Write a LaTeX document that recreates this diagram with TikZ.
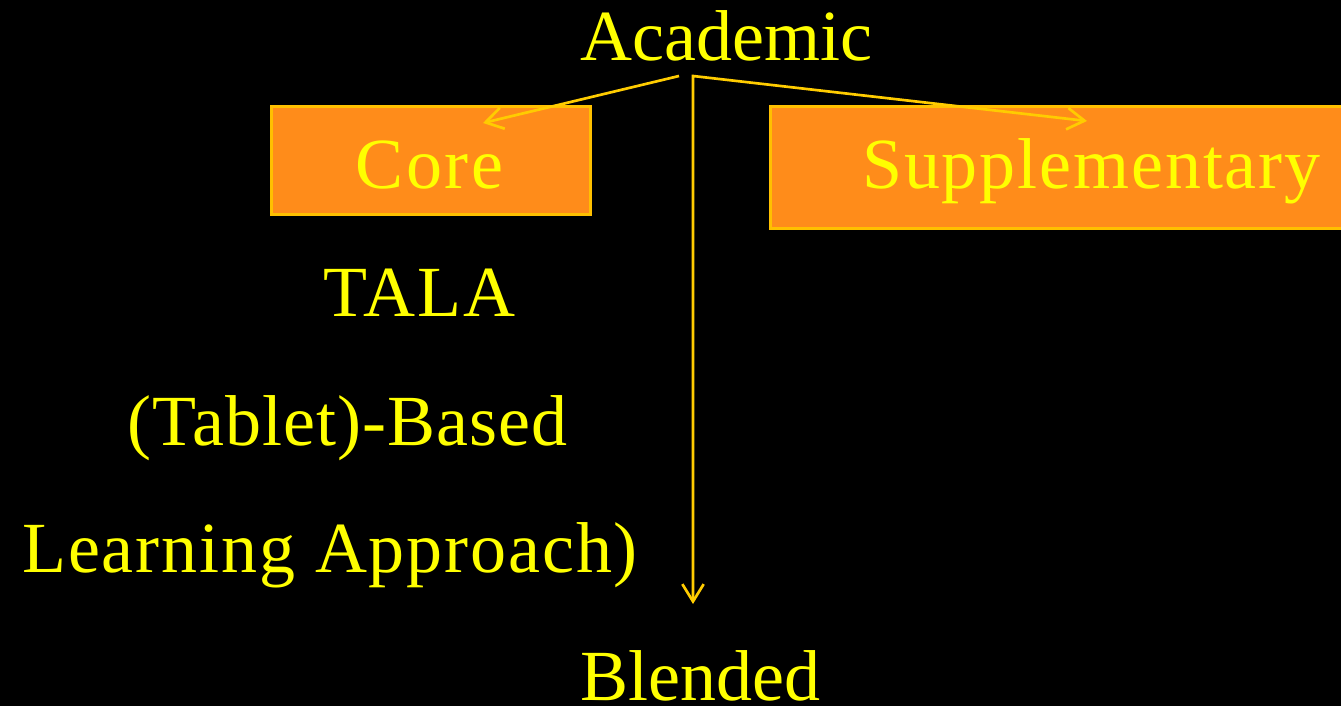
\documentclass[tikz,border=0pt]{standalone}
\usepackage{fontspec}
\setmainfont{Liberation Serif}
\usetikzlibrary{arrows.meta}
\definecolor{txtyellow}{HTML}{FFFF00}
\definecolor{lineyellow}{HTML}{FFCC00}
\definecolor{boxfill}{HTML}{FF8C1A}
\definecolor{boxedge}{HTML}{FFC000}
\tikzset{
  bigtext/.style={text=txtyellow, inner sep=0pt, anchor=base west, font=\fontsize{54}{60}\selectfont},
  spaced/.style={font=\fontsize{54}{60}\selectfont\addfontfeature{LetterSpace=#1}},
  orangebox/.style={draw=boxedge, fill=boxfill, line width=2pt, inner sep=0pt},
  barbtip/.tip={Straight Barb[length=13pt,width=16pt,line width=2pt]},
  conn/.style={draw=lineyellow, line width=2pt},
}
\begin{document}
\begin{tikzpicture}[x=0.75pt,y=-0.75pt]
\fill[black] (0,0) rectangle (1341,706);
\useasboundingbox (0,0) rectangle (1341,706);
\clip (0,0) rectangle (1341,706);
% boxes
\node[orangebox, minimum width=319*0.75pt, minimum height=108*0.75pt, anchor=north west] (corebox) at (270,105) {};
\node[orangebox, minimum width=590*0.75pt, minimum height=122*0.75pt, anchor=north west] (suppbox) at (769,105) {};
% texts
\node[bigtext] (academic) at (580,61) {Academic};
\node[bigtext, spaced=4] (core) at (355,188) {Core};
\node[bigtext, spaced=2.6] (supp) at (862,189) {Supplementary};
\node[bigtext, spaced=3] (tala) at (323,316) {TALA};
\node[bigtext, spaced=1.4] (tablet) at (127,445) {(Tablet)-Based};
\node[bigtext, spaced=2.6] (learning) at (22,572) {Learning Approach)};
\node[bigtext] (blended) at (580,700) {Blended};
% connector points
\coordinate (lstart) at (679,76);
\coordinate (corner) at (693,76);
\coordinate (coretip) at (483,123);
\coordinate (supptip) at (1087,121);
\coordinate (downtip) at (693,604);
\draw[conn, -barbtip] (lstart) -- (coretip);
\draw[conn, barbtip-barbtip] (supptip) -- (corner) -- (downtip);
\end{tikzpicture}
\end{document}
